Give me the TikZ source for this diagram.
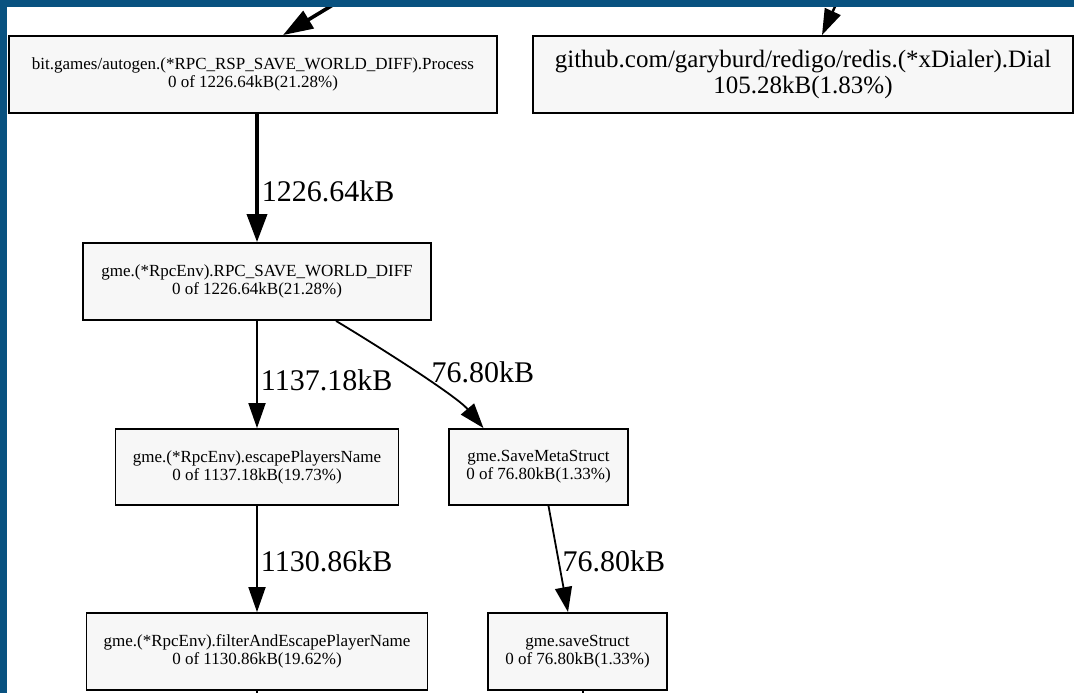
\documentclass[tikz,border=0pt]{standalone}
\usepackage{fontspec}
\setmainfont{Liberation Serif}
\usetikzlibrary{arrows.meta}
\definecolor{framebl}{RGB}{9,82,128}
\definecolor{boxfill}{RGB}{247,247,247}

\begin{document}
\begin{tikzpicture}[x=1pt,y=-1pt,
	fn/.style={draw, line width=1.8pt, fill=boxfill, rectangle, inner sep=0pt, align=center, minimum height=77pt, font=\fontsize{17}{18}\selectfont},
	edge/.style={line width=1.8pt, -{Triangle[length=25pt,width=17pt]}},
	fat/.style={line width=3.6pt, -{Triangle[length=28pt,width=20pt]}},
	wt/.style={font=\fontsize{30}{32}\selectfont, anchor=west, inner sep=3pt}]
	\useasboundingbox (0,0) rectangle (1074,693);
	% function boxes
	\node[fn, minimum width=488pt] (proc) at (253,74.5) {bit.games/autogen.(*RPC\_RSP\_SAVE\_WORLD\_DIFF).Process\\0 of 1226.64kB(21.28\%)};
	\node[fn, minimum width=540pt, font=\fontsize{25}{26}\selectfont] (dial) at (803,74.5) {github.com/garyburd/redigo/redis.(*xDialer).Dial\\105.28kB(1.83\%)};
	\node[fn, minimum width=348pt] (rpc) at (257,281.5) {gme.(*RpcEnv).RPC\_SAVE\_WORLD\_DIFF\\0 of 1226.64kB(21.28\%)};
	\node[fn, minimum width=283pt, minimum height=76pt] (esc) at (257,467) {gme.(*RpcEnv).escapePlayersName\\0 of 1137.18kB(19.73\%)};
	\node[fn, minimum width=179pt, minimum height=76pt] (meta) at (538.5,467) {gme.SaveMetaStruct\\0 of 76.80kB(1.33\%)};
	\node[fn, minimum width=341pt] (filt) at (257,651.5) {gme.(*RpcEnv).filterAndEscapePlayerName\\0 of 1130.86kB(19.62\%)};
	\node[fn, minimum width=179pt] (save) at (577.5,651.5) {gme.saveStruct\\0 of 76.80kB(1.33\%)};
	% free ends
	\coordinate (inproc) at (341,0);
	\coordinate (indial) at (838,0);
	\coordinate (outfilt) at (257,700);
	\coordinate (outsave) at (583,700);
	% edges
	\draw[fat, -{Triangle[length=30pt,width=20pt]}] (inproc) -- ([xshift=30]proc.north);
	\draw[line width=2.4pt, -{Triangle[length=26pt,width=17pt]}] (indial) -- ([xshift=19]dial.north);
	\draw[fat] (rpc.north |- proc.south) -- node[wt, pos=0.6] {1226.64kB} (rpc.north);
	\draw[edge] (rpc) -- node[wt, pos=0.55] {1137.18kB} (esc);
	\draw[edge] ([xshift=79]rpc.south) to[out=-31, in=130, looseness=0.6] node[wt, pos=0.55, xshift=6, yshift=4] {76.80kB} ([xshift=-55]meta.north);
	\draw[edge] (esc) -- node[wt, pos=0.52] {1130.86kB} (filt);
	\draw[edge] ([xshift=10]meta.south) -- node[wt, pos=0.52] {76.80kB} ([xshift=-9.5]save.north);
	\draw[line width=1.8pt] (filt.south) -- (outfilt);
	\draw[line width=1.8pt] ([xshift=5.5]save.south) -- (outsave);
	% frame
	\fill[framebl] (0,0) rectangle (1074,7);
	\fill[framebl] (0,0) rectangle (7,693);
\end{tikzpicture}
\end{document}
